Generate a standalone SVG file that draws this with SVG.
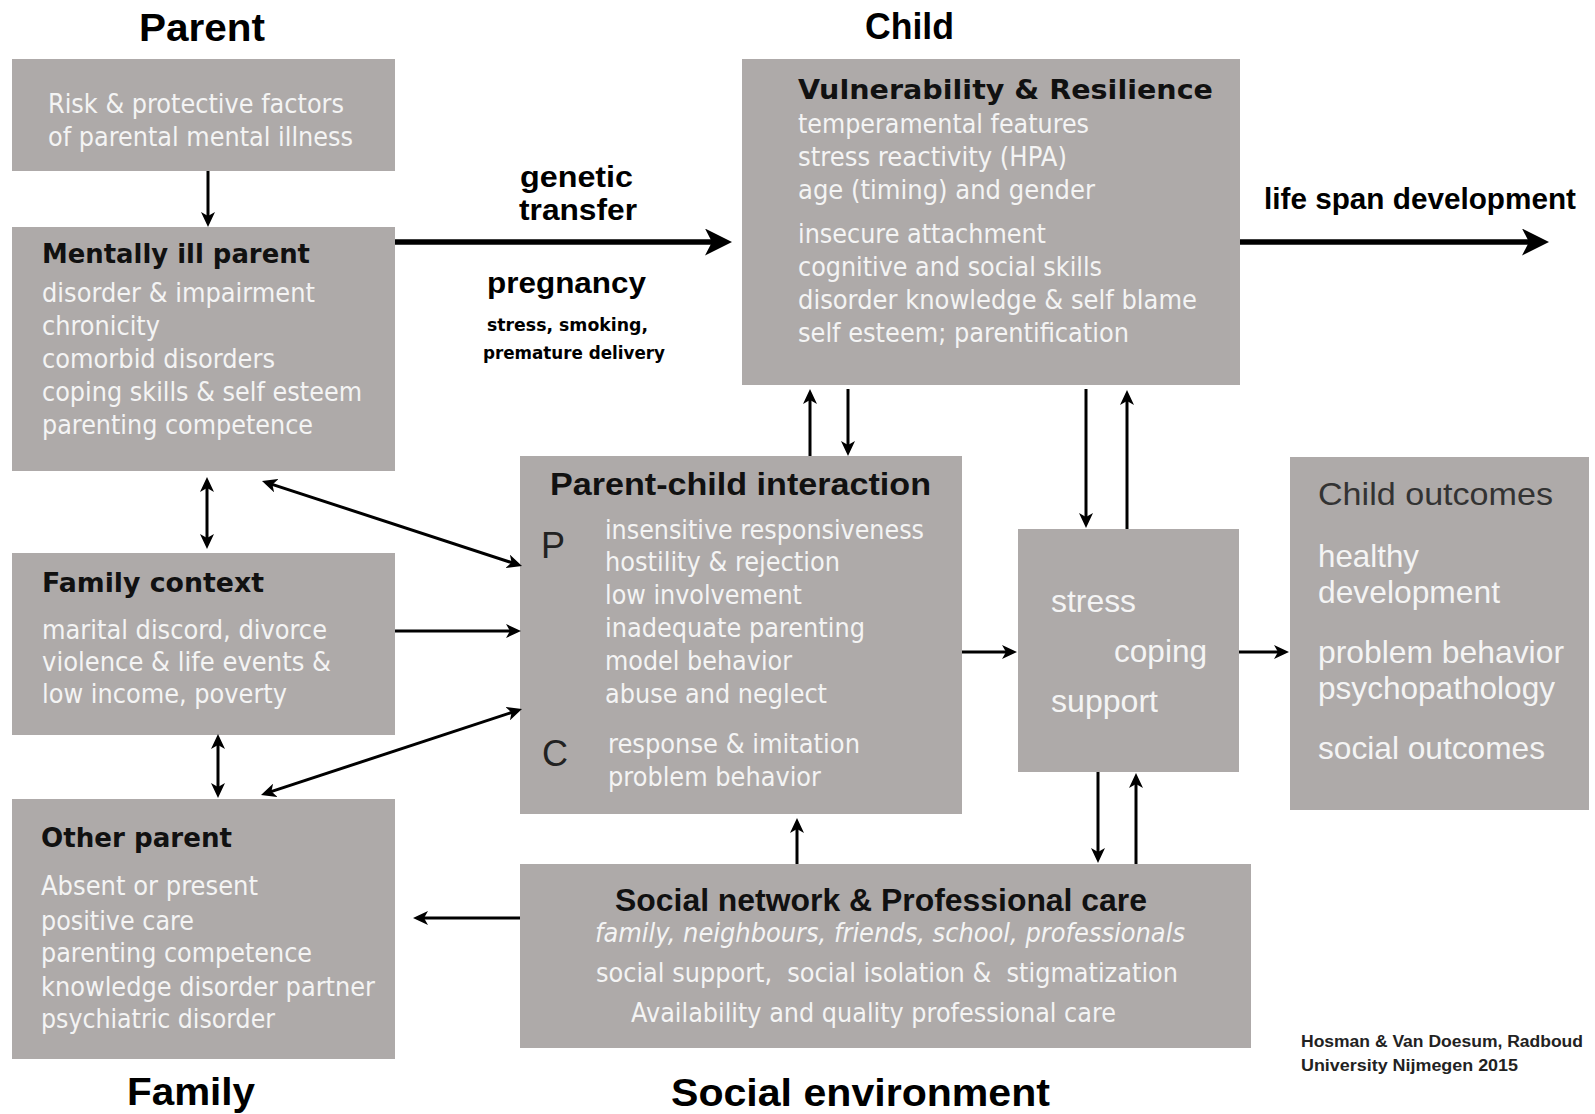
<svg xmlns="http://www.w3.org/2000/svg" width="1595" height="1114" viewBox="0 0 1595 1114">
<style>
.box{fill:#aeaaa9}
.t{font-family:"Liberation Sans",Arial,sans-serif;font-weight:bold;fill:#000}
.h{font-family:"DejaVu Sans",sans-serif;font-weight:bold;font-size:27px;fill:#111}
.ha{font-family:"Liberation Sans",Arial,sans-serif;font-weight:bold;font-size:31px;fill:#111}
.b{font-family:"DejaVu Sans",sans-serif;font-size:26px;fill:#f4f4f4}
.bi{font-family:"DejaVu Sans",sans-serif;font-size:26px;font-style:italic;fill:#f4f4f4}
.a{font-family:"Liberation Sans",Arial,sans-serif;font-size:32px;fill:#f4f4f4}
.ad{font-family:"Liberation Sans",Arial,sans-serif;font-size:32px;fill:#333}
.pc{font-family:"Liberation Sans",Arial,sans-serif;font-size:36px;fill:#222}
.lb{font-family:"Liberation Sans",Arial,sans-serif;font-weight:bold;font-size:30px;fill:#000}
.sm{font-family:"DejaVu Sans",sans-serif;font-weight:bold;font-size:17px;fill:#000}
.cr{font-family:"Liberation Sans",Arial,sans-serif;font-weight:bold;font-size:16px;fill:#222}
.c{stroke:#000;stroke-width:3;fill:none;marker-end:url(#ah)}
.cd{stroke:#000;stroke-width:3;fill:none;marker-end:url(#ah);marker-start:url(#ah)}
.ck{stroke:#000;stroke-width:5.5;fill:none;marker-end:url(#ahk)}
</style>
<defs>
<marker id="ah" markerUnits="userSpaceOnUse" markerWidth="15" markerHeight="14" refX="10" refY="7" orient="auto-start-reverse" viewBox="0 0 15 14">
<path d="M0,0 L15,7 L0,14 L4,7 z" fill="#000"/>
</marker>
<marker id="ahk" markerUnits="userSpaceOnUse" markerWidth="27" markerHeight="27" refX="18" refY="13.5" orient="auto" viewBox="0 0 27 27">
<path d="M0,0 L27,13.5 L0,27 L7,13.5 z" fill="#000"/>
</marker>
</defs>
<rect width="1595" height="1114" fill="#fff"/>

<g id="titles">
<text class="t" x="139" y="41" font-size="38" textLength="126" lengthAdjust="spacingAndGlyphs">Parent</text>
<text class="t" x="865" y="39" font-size="36" textLength="89" lengthAdjust="spacingAndGlyphs">Child</text>
<text class="t" x="127" y="1105" font-size="38" textLength="128" lengthAdjust="spacingAndGlyphs">Family</text>
<text class="t" x="671" y="1106" font-size="38" textLength="379" lengthAdjust="spacingAndGlyphs">Social environment</text>
</g>

<g id="risk">
<rect class="box" x="12" y="59" width="383" height="112"/>
<text class="b" x="48" y="113" textLength="296" lengthAdjust="spacingAndGlyphs">Risk &amp; protective factors</text>
<text class="b" x="48" y="146" textLength="305" lengthAdjust="spacingAndGlyphs">of parental mental illness</text>
</g>

<g id="mentally-ill-parent">
<rect class="box" x="12" y="227" width="383" height="244"/>
<text class="h" x="42" y="263" textLength="268" lengthAdjust="spacingAndGlyphs">Mentally ill parent</text>
<text class="b" x="42" y="302" textLength="273" lengthAdjust="spacingAndGlyphs">disorder &amp; impairment</text>
<text class="b" x="42" y="335" textLength="118" lengthAdjust="spacingAndGlyphs">chronicity</text>
<text class="b" x="42" y="368" textLength="233" lengthAdjust="spacingAndGlyphs">comorbid disorders</text>
<text class="b" x="42" y="401" textLength="320" lengthAdjust="spacingAndGlyphs">coping skills &amp; self esteem</text>
<text class="b" x="42" y="434" textLength="271" lengthAdjust="spacingAndGlyphs">parenting competence</text>
</g>

<g id="family-context">
<rect class="box" x="12" y="553" width="383" height="182"/>
<text class="h" x="42" y="592" textLength="222" lengthAdjust="spacingAndGlyphs">Family context</text>
<text class="b" x="42" y="639" textLength="285" lengthAdjust="spacingAndGlyphs">marital discord, divorce</text>
<text class="b" x="42" y="671" textLength="289" lengthAdjust="spacingAndGlyphs">violence &amp; life events &amp;</text>
<text class="b" x="42" y="703" textLength="245" lengthAdjust="spacingAndGlyphs">low income, poverty</text>
</g>

<g id="other-parent">
<rect class="box" x="12" y="799" width="383" height="260"/>
<text class="h" x="41" y="847" textLength="191" lengthAdjust="spacingAndGlyphs">Other parent</text>
<text class="b" x="41" y="895" textLength="217" lengthAdjust="spacingAndGlyphs">Absent or present</text>
<text class="b" x="41" y="930" textLength="153" lengthAdjust="spacingAndGlyphs">positive care</text>
<text class="b" x="41" y="962" textLength="271" lengthAdjust="spacingAndGlyphs">parenting competence</text>
<text class="b" x="41" y="996" textLength="334" lengthAdjust="spacingAndGlyphs">knowledge disorder partner</text>
<text class="b" x="41" y="1028" textLength="234" lengthAdjust="spacingAndGlyphs">psychiatric disorder</text>
</g>

<g id="vulnerability">
<rect class="box" x="742" y="59" width="498" height="326"/>
<text class="h" x="798" y="99" font-size="29" textLength="415" lengthAdjust="spacingAndGlyphs">Vulnerability &amp; Resilience</text>
<text class="b" x="798" y="133" textLength="291" lengthAdjust="spacingAndGlyphs">temperamental features</text>
<text class="b" x="798" y="166" textLength="269" lengthAdjust="spacingAndGlyphs">stress reactivity (HPA)</text>
<text class="b" x="798" y="199" textLength="297" lengthAdjust="spacingAndGlyphs">age (timing) and gender</text>
<text class="b" x="798" y="243" textLength="248" lengthAdjust="spacingAndGlyphs">insecure attachment</text>
<text class="b" x="798" y="276" textLength="304" lengthAdjust="spacingAndGlyphs">cognitive and social skills</text>
<text class="b" x="798" y="309" textLength="399" lengthAdjust="spacingAndGlyphs">disorder knowledge &amp; self blame</text>
<text class="b" x="798" y="342" textLength="331" lengthAdjust="spacingAndGlyphs">self esteem; parentification</text>
</g>

<g id="parent-child-interaction">
<rect class="box" x="520" y="456" width="442" height="358"/>
<text class="ha" x="550" y="495" textLength="381" lengthAdjust="spacingAndGlyphs">Parent-child interaction</text>
<text class="pc" x="541" y="558">P</text>
<text class="b" x="605" y="539" textLength="319" lengthAdjust="spacingAndGlyphs">insensitive responsiveness</text>
<text class="b" x="605" y="571" textLength="235" lengthAdjust="spacingAndGlyphs">hostility &amp; rejection</text>
<text class="b" x="605" y="604" textLength="197" lengthAdjust="spacingAndGlyphs">low involvement</text>
<text class="b" x="605" y="637" textLength="260" lengthAdjust="spacingAndGlyphs">inadequate parenting</text>
<text class="b" x="605" y="670" textLength="187" lengthAdjust="spacingAndGlyphs">model behavior</text>
<text class="b" x="605" y="703" textLength="222" lengthAdjust="spacingAndGlyphs">abuse and neglect</text>
<text class="pc" x="542" y="766">C</text>
<text class="b" x="608" y="753" textLength="252" lengthAdjust="spacingAndGlyphs">response &amp; imitation</text>
<text class="b" x="608" y="786" textLength="213" lengthAdjust="spacingAndGlyphs">problem behavior</text>
</g>

<g id="stress-coping-support">
<rect class="box" x="1018" y="529" width="221" height="243"/>
<text class="a" x="1051" y="612" textLength="85" lengthAdjust="spacingAndGlyphs">stress</text>
<text class="a" x="1114" y="662" textLength="93" lengthAdjust="spacingAndGlyphs">coping</text>
<text class="a" x="1051" y="712" textLength="107" lengthAdjust="spacingAndGlyphs">support</text>
</g>

<g id="child-outcomes">
<rect class="box" x="1290" y="457" width="299" height="353"/>
<text class="ad" x="1318" y="505" textLength="235" lengthAdjust="spacingAndGlyphs">Child outcomes</text>
<text class="a" x="1318" y="567" textLength="101" lengthAdjust="spacingAndGlyphs">healthy</text>
<text class="a" x="1318" y="603" textLength="182" lengthAdjust="spacingAndGlyphs">development</text>
<text class="a" x="1318" y="663" textLength="246" lengthAdjust="spacingAndGlyphs">problem behavior</text>
<text class="a" x="1318" y="699" textLength="237" lengthAdjust="spacingAndGlyphs">psychopathology</text>
<text class="a" x="1318" y="759" textLength="227" lengthAdjust="spacingAndGlyphs">social outcomes</text>
</g>

<g id="social-network">
<rect class="box" x="520" y="864" width="731" height="184"/>
<text class="ha" x="615" y="911" font-size="30" textLength="532" lengthAdjust="spacingAndGlyphs">Social network &amp; Professional care</text>
<text class="bi" x="595" y="942" textLength="590" lengthAdjust="spacingAndGlyphs">family, neighbours, friends, school, professionals</text>
<text class="b" x="596" y="982" textLength="582" lengthAdjust="spacingAndGlyphs" xml:space="preserve">social support,  social isolation &amp;  stigmatization</text>
<text class="b" x="631" y="1022" textLength="485" lengthAdjust="spacingAndGlyphs">Availability and quality professional care</text>
</g>

<g id="labels">
<text class="lb" x="520" y="187" textLength="113" lengthAdjust="spacingAndGlyphs">genetic</text>
<text class="lb" x="519" y="220" textLength="118" lengthAdjust="spacingAndGlyphs">transfer</text>
<text class="lb" x="487" y="293" textLength="159" lengthAdjust="spacingAndGlyphs">pregnancy</text>
<text class="sm" x="487" y="331" textLength="161" lengthAdjust="spacingAndGlyphs">stress, smoking,</text>
<text class="sm" x="483" y="359" textLength="182" lengthAdjust="spacingAndGlyphs">premature delivery</text>
<text class="lb" x="1264" y="209" font-size="28" textLength="312" lengthAdjust="spacingAndGlyphs">life span development</text>
<text class="cr" x="1301" y="1047" textLength="282" lengthAdjust="spacingAndGlyphs">Hosman &amp; Van Doesum, Radboud</text>
<text class="cr" x="1301" y="1071" textLength="217" lengthAdjust="spacingAndGlyphs">University Nijmegen 2015</text>
</g>

<g id="connectors">
<line class="ck" x1="395" y1="242" x2="723" y2="242"/>
<line class="ck" x1="1240" y1="242" x2="1540" y2="242"/>
<line class="c" x1="208" y1="171" x2="208" y2="222"/>
<line class="cd" x1="207" y1="482" x2="207" y2="544"/>
<line class="cd" x1="266.75" y1="482.56" x2="517.25" y2="564.44"/>
<line class="c" x1="395" y1="631" x2="516" y2="631"/>
<line class="cd" x1="218" y1="739" x2="218" y2="793"/>
<line class="cd" x1="265.75" y1="793.43" x2="517.25" y2="710.57"/>
<line class="c" x1="520" y1="918" x2="418" y2="918"/>
<line class="c" x1="810" y1="456" x2="810" y2="394"/>
<line class="c" x1="848" y1="389" x2="848" y2="451"/>
<line class="c" x1="1086" y1="389" x2="1086" y2="523"/>
<line class="c" x1="1127" y1="529" x2="1127" y2="395"/>
<line class="c" x1="962" y1="652" x2="1012" y2="652"/>
<line class="c" x1="1239" y1="652" x2="1284" y2="652"/>
<line class="c" x1="797" y1="864" x2="797" y2="823"/>
<line class="c" x1="1098" y1="772" x2="1098" y2="858"/>
<line class="c" x1="1136" y1="864" x2="1136" y2="778"/>
</g>
</svg>
